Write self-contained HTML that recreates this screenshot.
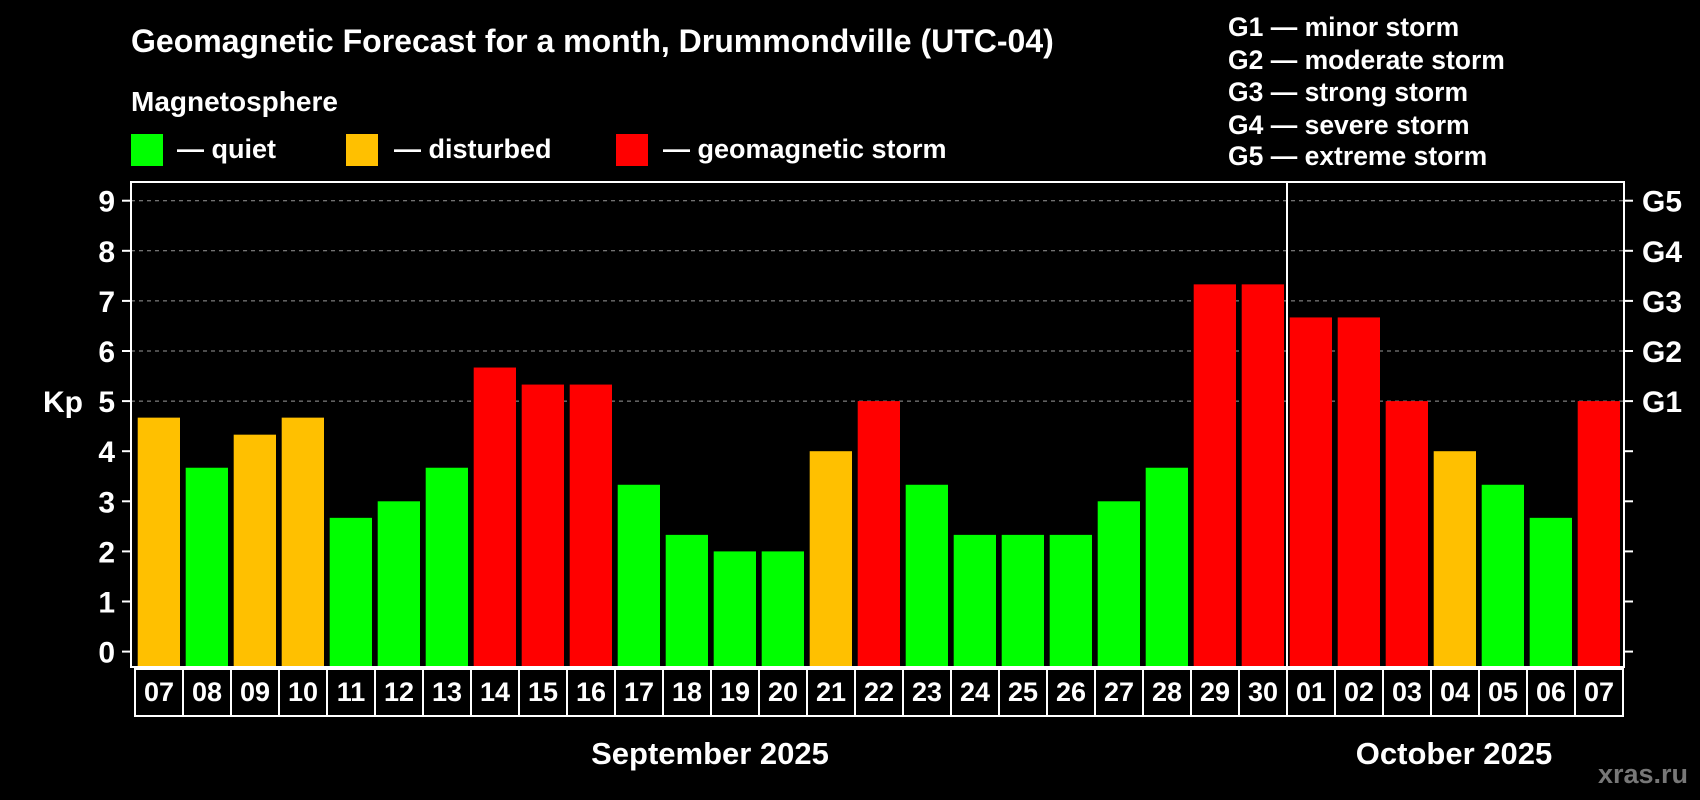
<!DOCTYPE html>
<html><head><meta charset="utf-8"><style>
html,body{margin:0;padding:0;background:#000;}
svg{display:block;font-family:"Liberation Sans",Arial,sans-serif;font-weight:bold;}
</style></head><body>
<svg id="chart" width="1700" height="800" viewBox="0 0 1700 800">
<rect width="1700" height="800" fill="#000"/>
<text x="131" y="52" fill="#fff" font-size="32">Geomagnetic Forecast for a month, Drummondville (UTC-04)</text>
<text x="131" y="111" fill="#fff" font-size="28">Magnetosphere</text>
<g><rect x="131" y="134" width="32" height="32" fill="#00ff00"/><text x="177" y="158" fill="#fff" font-size="27">— quiet</text></g>
<g><rect x="346" y="134" width="32" height="32" fill="#ffc000"/><text x="394" y="158" fill="#fff" font-size="27">— disturbed</text></g>
<g><rect x="616" y="134" width="32" height="32" fill="#ff0000"/><text x="663" y="158" fill="#fff" font-size="27">— geomagnetic storm</text></g>
<g fill="#fff" font-size="26.5">
<text x="1228" y="36">G1 — minor storm</text>
<text x="1228" y="69">G2 — moderate storm</text>
<text x="1228" y="101">G3 — strong storm</text>
<text x="1228" y="134">G4 — severe storm</text>
<text x="1228" y="165">G5 — extreme storm</text>
</g>
<text x="63" y="412" fill="#fff" font-size="30" text-anchor="middle">Kp</text>
<g id="grid"></g><g id="bars"></g><g id="axes"></g>
<text x="710" y="764" fill="#fff" font-size="31" text-anchor="middle">September 2025</text>
<text x="1454" y="764" fill="#fff" font-size="31" text-anchor="middle">October 2025</text>
<text x="1688" y="783" fill="#777" font-size="27" text-anchor="end">xras.ru</text>
</svg>
<script>
const days=["07","08","09","10","11","12","13","14","15","16","17","18","19","20","21","22","23","24","25","26","27","28","29","30","01","02","03","04","05","06","07"];
const kp=[4.67,3.67,4.33,4.67,2.67,3,3.67,5.67,5.33,5.33,3.33,2.33,2,2,4,5,3.33,2.33,2.33,2.33,3,3.67,7.33,7.33,6.67,6.67,5,4,3.33,2.67,5];
const yTicks=[0,1,2,3,4,5,6,7,8,9];
const gLabels=["G1","G2","G3","G4","G5"];
const NS="http://www.w3.org/2000/svg";
const L=131,R=1624,T=182,B=667,Y0=651.6,UNIT=50.1,STEP=48,X0=137.7,BW=42.3;
const y=v=>Y0-v*UNIT;
const x=i=>X0+i*STEP;
function mk(tag,attrs,parent){const e=document.createElementNS(NS,tag);for(const k in attrs)e.setAttribute(k,attrs[k]);parent.appendChild(e);return e;}
const grid=document.getElementById('grid'),bars=document.getElementById('bars'),axes=document.getElementById('axes');
yTicks.forEach(v=>{
  if(v>=5){const g=mk('line',{x1:L,x2:R,y1:y(v),y2:y(v),stroke:'#999','stroke-width':1,'stroke-dasharray':'4,4'},grid);
  
  }
  const t=mk('line',{x1:L-9,x2:L,y1:y(v),y2:y(v),stroke:'#fff','stroke-width':2},axes);
  
  
  const t2=mk('line',{x1:R,x2:R+9,y1:y(v),y2:y(v),stroke:'#fff','stroke-width':2},axes);
  
  
  const lb=mk('text',{x:115,y:y(v)+11,fill:'#fff','font-size':30,'text-anchor':'end'},axes);lb.textContent=v;
  
  
});
gLabels.forEach((g,i)=>{const lb=mk('text',{x:1642,y:y(5+i)+11,fill:'#fff','font-size':30},axes);lb.textContent=g;
  
  });
kp.forEach((v,i)=>{
  const c=v>=5?'#ff0000':(v>=4?'#ffc000':'#00ff00');
  const r=mk('rect',{x:x(i),y:y(v),width:BW,height:B-y(v),fill:c},bars);
  
  
  const bx=mk('rect',{x:x(i)-2.7,y:B+2,width:STEP,height:47,fill:'none',stroke:'#fff','stroke-width':2},axes);
  
  
  const tl=mk('text',{x:x(i)-2.7+STEP/2,y:701,fill:'#fff','font-size':27,'text-anchor':'middle'},axes);tl.textContent=days[i];
  
  
});
const fr=mk('rect',{x:L,y:T,width:R-L,height:B-T,fill:'none',stroke:'#fff','stroke-width':2},axes);


const dv=mk('line',{x1:x(24)-2.7,x2:x(24)-2.7,y1:T,y2:B,stroke:'#fff','stroke-width':2},axes);


</script>
</body></html>
